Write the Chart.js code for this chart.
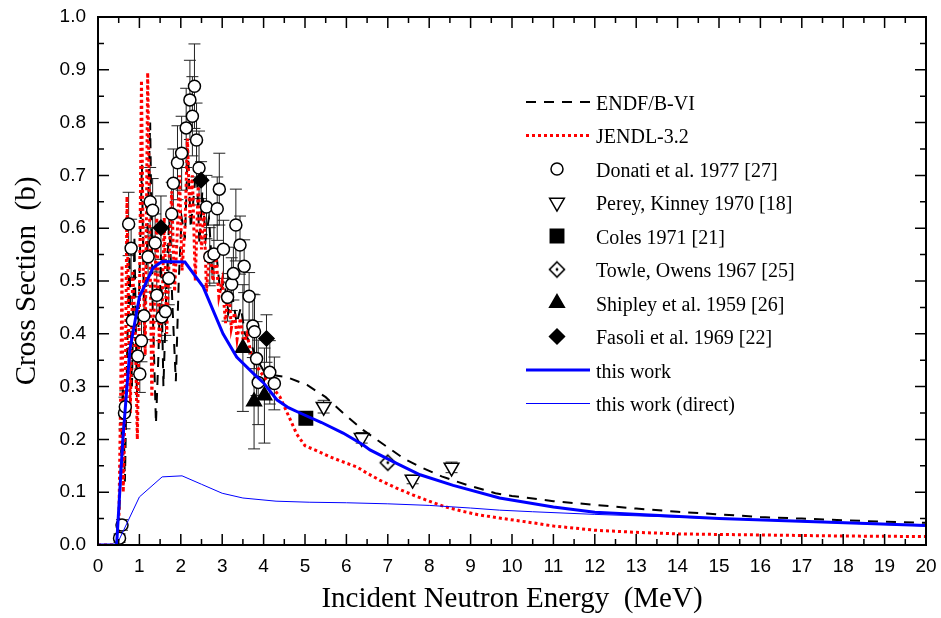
<!DOCTYPE html>
<html>
<head>
<meta charset="utf-8">
<script src="https://cdn.jsdelivr.net/npm/chart.js@4.4.1/dist/chart.umd.min.js"></script>
<style>
  html, body { margin: 0; padding: 0; background: #fff; }
  canvas { display: block; }
</style>
</head>
<body>
<canvas id="xsChart" width="941" height="618"></canvas>
<script>
// evaluated libraries (energy MeV, cross section b)
const endfE  = [0, 0.45, 0.5, 0.55, 0.6, 0.65, 0.7, 0.76, 0.82, 0.88, 0.94, 1.0, 1.06, 1.12, 1.18, 1.26, 1.32, 1.4, 1.46, 1.52, 1.58, 1.64, 1.72, 1.8, 1.88, 1.95, 2.02, 2.1, 2.17, 2.24, 2.3, 2.38, 2.45, 2.52, 2.6, 2.68, 2.76, 2.85, 2.95, 3.05, 3.15, 3.25, 3.35, 3.45, 3.55, 3.7, 3.85, 4.0, 4.2, 4.56, 5.05, 5.5, 5.92, 6.4, 6.98, 7.4, 7.78, 8.3, 8.9, 9.6, 10, 11, 12, 13, 14, 15, 16, 17, 18, 19, 20];
const endfXS = [0, 0, 0.02, 0.15, 0.3, 0.12, 0.35, 0.55, 0.3, 0.58, 0.28, 0.5, 0.72, 0.4, 0.55, 0.8, 0.45, 0.23, 0.36, 0.55, 0.3, 0.45, 0.62, 0.45, 0.31, 0.5, 0.62, 0.58, 0.75, 0.6, 0.65, 0.72, 0.57, 0.67, 0.58, 0.62, 0.52, 0.56, 0.48, 0.5, 0.44, 0.47, 0.42, 0.45, 0.4, 0.38, 0.35, 0.33, 0.322, 0.318, 0.303, 0.28, 0.25, 0.218, 0.186, 0.163, 0.148, 0.13, 0.114, 0.098, 0.093, 0.083, 0.076, 0.069, 0.063, 0.058, 0.053, 0.05, 0.047, 0.044, 0.042];

const jendlE  = [0, 0.45, 0.5, 0.55, 0.58, 0.61, 0.66, 0.7, 0.74, 0.78, 0.84, 0.9, 0.95, 1.0, 1.05, 1.1, 1.14, 1.2, 1.25, 1.3, 1.36, 1.42, 1.48, 1.55, 1.6, 1.66, 1.72, 1.78, 1.85, 1.92, 1.97, 2.03, 2.1, 2.16, 2.22, 2.28, 2.35, 2.42, 2.5, 2.56, 2.62, 2.7, 2.78, 2.85, 2.92, 3.0, 3.08, 3.15, 3.22, 3.3, 3.36, 3.44, 3.52, 3.6, 3.7, 3.8, 3.9, 4.0, 4.2, 4.4, 4.6, 4.8, 5.0, 5.3, 5.6, 6.0, 6.25, 6.5, 6.8, 7.2, 7.6, 8.0, 8.4, 8.8, 9.2, 9.7, 10.5, 11, 12, 13, 14, 15, 16, 18, 20];
const jendlXS = [0, 0, 0.02, 0.3, 0.53, 0.1, 0.3, 0.66, 0.42, 0.25, 0.52, 0.4, 0.2, 0.45, 0.88, 0.5, 0.36, 0.895, 0.6, 0.28, 0.45, 0.62, 0.38, 0.45, 0.62, 0.4, 0.55, 0.67, 0.48, 0.6, 0.7, 0.52, 0.6, 0.77, 0.62, 0.7, 0.5, 0.68, 0.56, 0.64, 0.48, 0.56, 0.5, 0.55, 0.47, 0.5, 0.42, 0.5, 0.41, 0.44, 0.39, 0.43, 0.38, 0.4, 0.36, 0.345, 0.33, 0.32, 0.3, 0.28, 0.245, 0.21, 0.188, 0.178, 0.167, 0.155, 0.148, 0.136, 0.123, 0.108, 0.095, 0.083, 0.072, 0.064, 0.057, 0.051, 0.042, 0.036, 0.028, 0.024, 0.021, 0.02, 0.019, 0.017, 0.016];

// this work
const workE  = [0, 0.45, 0.6, 0.77, 1.0, 1.33, 1.55, 2.1, 2.54, 3.02, 3.35, 3.75, 4.0, 4.32, 4.6, 4.88, 5.4, 5.92, 6.4, 6.57, 7.2, 7.78, 8.58, 9.7, 11, 12, 15, 20];
const workXS = [0, 0, 0.2, 0.37, 0.47, 0.525, 0.537, 0.536, 0.489, 0.4, 0.356, 0.325, 0.307, 0.275, 0.26, 0.25, 0.232, 0.212, 0.19, 0.18, 0.155, 0.133, 0.113, 0.089, 0.072, 0.062, 0.05, 0.037];
const directE  = [0, 0.45, 1.0, 1.55, 2.03, 2.5, 3.0, 3.5, 4.3, 5.1, 6, 7, 8, 9, 9.7, 10.5, 12, 15, 20];
const directXS = [0, 0, 0.091, 0.129, 0.131, 0.115, 0.098, 0.089, 0.083, 0.081, 0.08, 0.078, 0.075, 0.07, 0.066, 0.063, 0.058, 0.05, 0.036];

// measurements
const donatiE   = [0.52, 0.58, 0.64, 0.66, 0.74, 0.80, 0.83, 0.96, 1.01, 1.05, 1.11, 1.21, 1.26, 1.32, 1.38, 1.42, 1.54, 1.63, 1.71, 1.78, 1.82, 1.92, 2.02, 2.13, 2.22, 2.28, 2.33, 2.38, 2.44, 2.62, 2.70, 2.80, 2.88, 2.93, 3.03, 3.13, 3.23, 3.27, 3.33, 3.43, 3.53, 3.65, 3.74, 3.78, 3.83, 3.87, 4.15, 4.26];
const donatiXS  = [0.013, 0.038, 0.250, 0.262, 0.608, 0.562, 0.425, 0.358, 0.324, 0.387, 0.434, 0.546, 0.650, 0.634, 0.572, 0.473, 0.432, 0.442, 0.505, 0.627, 0.685, 0.724, 0.742, 0.790, 0.843, 0.812, 0.869, 0.767, 0.714, 0.640, 0.546, 0.551, 0.637, 0.674, 0.560, 0.469, 0.494, 0.514, 0.606, 0.568, 0.528, 0.471, 0.415, 0.404, 0.353, 0.308, 0.327, 0.306];
const donatiErr = [0.008, 0.01, 0.03, 0.03, 0.06, 0.055, 0.045, 0.035, 0.035, 0.04, 0.045, 0.055, 0.065, 0.06, 0.055, 0.05, 0.045, 0.045, 0.05, 0.06, 0.065, 0.07, 0.07, 0.075, 0.075, 0.075, 0.08, 0.07, 0.07, 0.06, 0.055, 0.055, 0.06, 0.068, 0.055, 0.045, 0.05, 0.05, 0.068, 0.055, 0.05, 0.045, 0.06, 0.07, 0.07, 0.08, 0.06, 0.05];
const pereyE = [5.45, 6.37, 7.6, 8.54];
const pereyXS = [0.262, 0.203, 0.124, 0.147];
const pereyErr = [0.012, 0.01, 0.008, 0.01];
const colesE = [5.02];
const colesXS = [0.24];
const colesErr = [0.012];
const towleE = [7.0];
const towleXS = [0.156];
const towleErr = [0.006];
const shipleyE = [3.5, 3.77, 4.02];
const shipleyXS = [0.373, 0.272, 0.283];
const shipleyErr = [0.12, 0.09, 0.09];
const fasoliE = [1.52, 2.49, 4.07];
const fasoliXS = [0.601, 0.691, 0.391];
const fasoliErr = [0.06, 0.035, 0.045];

const xTicks = { min: 0, max: 20, step: 1 };
const yTicks = { min: 0, max: 1, step: 0.1 };

const pts = (xs, ys) => xs.map((x, i) => ({ x, y: ys[i] }));

function towleMarker() {
  const c = document.createElement('canvas');
  c.width = c.height = 20;
  const g = c.getContext('2d');
  g.fillStyle = '#fff';
  g.strokeStyle = '#000';
  g.lineWidth = 1.6;
  g.beginPath();
  g.moveTo(10, 2.5); g.lineTo(17.5, 10); g.lineTo(10, 17.5); g.lineTo(2.5, 10);
  g.closePath(); g.fill(); g.stroke();
  g.fillStyle = '#000';
  g.beginPath(); g.arc(10, 10, 1.4, 0, Math.PI * 2); g.fill();
  return c;
}

const lineSet = (label, xs, ys, color, width, dash, order) => ({
  label, data: pts(xs, ys), showLine: true, borderColor: color, borderWidth: width,
  borderDash: dash, pointRadius: 0, tension: 0, fill: false, order, kind: 'line'
});
const markSet = (label, xs, ys, err, style, order) => Object.assign({
  label, data: pts(xs, ys), err, showLine: false, order, kind: 'mark',
  borderColor: '#000', pointBorderWidth: 1.5
}, style);

const datasets = [
  lineSet('ENDF/B-VI', endfE, endfXS, '#000', 2, [10, 8], 10),
  lineSet('JENDL-3.2', jendlE, jendlXS, '#ff0000', 3, [3, 3], 9),
  markSet('Donati et al. 1977 [27]', donatiE, donatiXS, donatiErr,
    { pointStyle: 'circle', pointRadius: 6, backgroundColor: '#fff', cap: 6 }, 8),
  markSet('Perey, Kinney 1970 [18]', pereyE, pereyXS, pereyErr,
    { pointStyle: 'triangle', pointRotation: 180, pointRadius: 8.5, backgroundColor: '#fff', cap: 6 }, 7),
  markSet('Coles 1971 [21]', colesE, colesXS, colesErr,
    { pointStyle: 'rect', pointRadius: 9.5, backgroundColor: '#000', cap: 6 }, 6),
  markSet('Towle, Owens 1967 [25]', towleE, towleXS, towleErr,
    { pointStyle: towleMarker(), pointRadius: 8, backgroundColor: '#fff', cap: 5 }, 5),
  markSet('Shipley et al. 1959 [26]', shipleyE, shipleyXS, shipleyErr,
    { pointStyle: 'triangle', pointRadius: 8.5, backgroundColor: '#000', cap: 6 }, 4),
  markSet('Fasoli et al. 1969 [22]', fasoliE, fasoliXS, fasoliErr,
    { pointStyle: 'rectRot', pointRadius: 7.5, backgroundColor: '#000', cap: 6 }, 3),
  lineSet('this work', workE, workXS, '#0000ff', 3, [], 0),
  lineSet('this work (direct)', directE, directXS, '#0000ff', 1, [], 1)
];

// vertical error bars, drawn under the markers
const errorBars = {
  id: 'errorBars',
  beforeDatasetsDraw(chart) {
    const { ctx, scales: { x, y } } = chart;
    ctx.save();
    ctx.strokeStyle = '#222';
    ctx.lineWidth = 1;
    chart.data.datasets.forEach(ds => {
      if (!ds.err) return;
      ds.data.forEach((p, i) => {
        const px = x.getPixelForValue(p.x);
        const top = y.getPixelForValue(p.y + ds.err[i]);
        const bot = y.getPixelForValue(Math.max(0, p.y - ds.err[i]));
        ctx.beginPath();
        ctx.moveTo(px, top); ctx.lineTo(px, bot);
        ctx.moveTo(px - ds.cap, top); ctx.lineTo(px + ds.cap, top);
        ctx.moveTo(px - ds.cap, bot); ctx.lineTo(px + ds.cap, bot);
        ctx.stroke();
      });
    });
    ctx.restore();
  }
};

// closed frame with inward ticks on all four sides
const frameTicks = {
  id: 'frameTicks',
  afterDatasetsDraw(chart) {
    const { ctx, chartArea: a, scales: { x, y } } = chart;
    ctx.save();
    ctx.strokeStyle = '#000';
    ctx.lineWidth = 1.5;
    ctx.beginPath();
    const xs = x.ticks.map(t => t.value);
    xs.forEach((v, i) => {
      const marks = [[v, 11]];
      if (i < xs.length - 1) marks.push([(v + xs[i + 1]) / 2, 6]);
      marks.forEach(([val, len]) => {
        const px = x.getPixelForValue(val);
        ctx.moveTo(px, a.bottom); ctx.lineTo(px, a.bottom - len);
        ctx.moveTo(px, a.top); ctx.lineTo(px, a.top + len);
      });
    });
    const ys = y.ticks.map(t => t.value);
    ys.forEach((v, i) => {
      const marks = [[v, 11]];
      if (i < ys.length - 1) marks.push([(v + ys[i + 1]) / 2, 6]);
      marks.forEach(([val, len]) => {
        const py = y.getPixelForValue(val);
        ctx.moveTo(a.left, py); ctx.lineTo(a.left + len, py);
        ctx.moveTo(a.right, py); ctx.lineTo(a.right - len, py);
      });
    });
    ctx.stroke();
    ctx.lineWidth = 2;
    ctx.strokeRect(a.left, a.top, a.right - a.left, a.bottom - a.top);
    ctx.restore();
  }
};

// legend box inside the plot
const insideLegend = {
  id: 'insideLegend',
  afterDraw(chart) {
    const { ctx } = chart;
    const x0 = 526, x1 = 590, textX = 596, rowTop = 102, rowGap = 33.5;
    ctx.save();
    ctx.font = '20px "Liberation Serif", "Times New Roman", serif';
    ctx.textBaseline = 'alphabetic';
    ctx.fillStyle = '#000';
    chart.data.datasets.forEach((ds, i) => {
      const cy = rowTop + i * rowGap;
      if (ds.kind === 'line') {
        ctx.save();
        ctx.strokeStyle = ds.borderColor;
        ctx.lineWidth = ds.borderWidth;
        ctx.setLineDash(ds.borderDash || []);
        ctx.beginPath(); ctx.moveTo(x0, cy); ctx.lineTo(x1, cy); ctx.stroke();
        ctx.restore();
      } else {
        ctx.save();
        ctx.fillStyle = ds.backgroundColor;
        ctx.strokeStyle = ds.borderColor;
        ctx.lineWidth = ds.pointBorderWidth;
        Chart.helpers.drawPoint(ctx, {
          pointStyle: ds.pointStyle, radius: ds.pointRadius,
          rotation: ds.pointRotation || 0, borderWidth: ds.pointBorderWidth
        }, (x0 + x1) / 2 - 1, cy);
        ctx.restore();
      }
      ctx.fillText(ds.label, textX, cy + 7.5);
    });
    ctx.restore();
  }
};

new Chart(document.getElementById('xsChart'), {
  type: 'scatter',
  data: { datasets },
  options: {
    responsive: false,
    devicePixelRatio: 1,
    animation: false,
    events: [],
    layout: { padding: { top: 17, right: 15, left: 0, bottom: 0 } },
    plugins: { legend: { display: false }, tooltip: { enabled: false } },
    scales: {
      x: {
        type: 'linear', min: xTicks.min, max: xTicks.max,
        ticks: {
          stepSize: xTicks.step, autoSkip: false, maxRotation: 0, padding: 10, color: '#000',
          font: { family: '"Liberation Sans", Arial, sans-serif', size: 19 }
        },
        grid: { display: false, drawTicks: false },
        border: { display: false },
        title: {
          display: true, text: 'Incident Neutron Energy  (MeV)', color: '#000',
          font: { family: '"Liberation Serif", "Times New Roman", serif', size: 29 },
          padding: { top: 0, bottom: 1 }
        },
        afterFit: s => { s.height = 73; s.paddingLeft = 0; s.paddingRight = 0; }
      },
      y: {
        type: 'linear', min: yTicks.min, max: yTicks.max,
        ticks: {
          stepSize: yTicks.step, padding: 12, color: '#000',
          font: { family: '"Liberation Sans", Arial, sans-serif', size: 19 },
          callback: v => v.toFixed(1)
        },
        grid: { display: false, drawTicks: false },
        border: { display: false },
        title: {
          display: true, text: 'Cross Section  (b)', color: '#000',
          font: { family: '"Liberation Serif", "Times New Roman", serif', size: 29 },
          padding: { top: 10, bottom: 0 }
        },
        afterFit: s => { s.width = 98; s.paddingTop = 0; s.paddingBottom = 0; }
      }
    }
  },
  plugins: [errorBars, frameTicks, insideLegend]
});
</script>
</body>
</html>
